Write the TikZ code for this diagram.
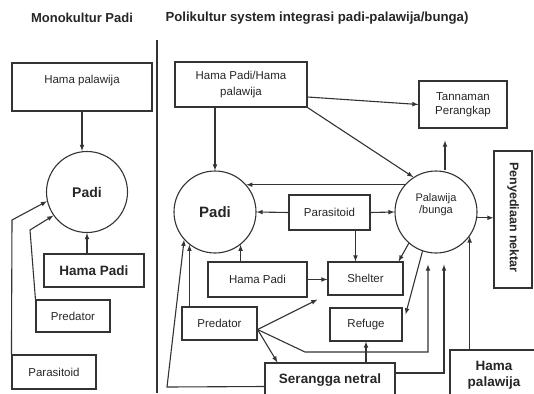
\documentclass[tikz,border=0pt]{standalone}
\usepackage{fontspec}
\setmainfont{Liberation Sans}

\begin{document}
\begin{tikzpicture}[x=1pt, y=-1pt, >=latex,
  line/.style={draw=black!80, line width=1.1pt},
  box/.style={line, rectangle, inner sep=1pt, align=center, text=black!85,
    font=\fontsize{11.5}{13}\selectfont},
  circ/.style={line, circle, minimum size=82pt, inner sep=0pt, align=center, text=black!85,
    font=\fontsize{11}{12}\selectfont},
  bold/.style={font=\bfseries\fontsize{13.5}{16}\selectfont},
  arr/.style={line, ->}]
\useasboundingbox (0,0) rectangle (534,393);
\clip (0,0) rectangle (534,393);

% Titles
\node[bold, font=\bfseries\fontsize{13}{15}\selectfont, text=black!85] (titleL) at (82,18) {Monokultur Padi};
\node[bold, font=\bfseries\fontsize{13.2}{15}\selectfont, text=black!85, anchor=west] (titleR) at (162,18) {Polikultur system integrasi padi-palawija/bunga)};
\draw[line] (157,40) -- (157,393);

% Monokultur nodes
\node[box, minimum width=140pt, minimum height=48pt] (hpalL) at (82,87) {Hama palawija\\[2pt]\mbox{}};
\node[circ, bold, font=\bfseries\fontsize{14}{16}\selectfont, minimum size=81pt] (padiL) at (87,192) {Padi};
\node[box, bold, minimum width=100pt, minimum height=33pt] (hpadL) at (94,270.5) {Hama Padi};
\node[box, minimum width=74pt, minimum height=32pt] (predL) at (73,316) {Predator};
\node[box, minimum width=84pt, minimum height=34pt] (parL) at (54,372) {Parasitoid};

% Monokultur arrows
\draw[arr] (hpalL.south) -- (hpalL.south |- padiL.north);
\draw[arr] (hpadL.north -| padiL.south) -- (padiL.south);
\draw[arr] (predL.north west) -- (30,230) -- (padiL.215);
\draw[arr] (parL.north west) -- (12,220) -- (padiL.193);

% Polikultur nodes
\node[box, minimum width=132pt, minimum height=45pt] (hphp) at (241,84.5) {Hama Padi/Hama\\[3pt]palawija};
\node[box, minimum width=88pt, minimum height=47pt] (tanam) at (463,104.5) {Tannaman\\[1pt]Perangkap};
\node[box, minimum width=38pt, minimum height=137pt] (nektar) at (513,219.5) {};
\node[bold, font=\bfseries\fontsize{12.5}{15}\selectfont, text=black!85, rotate=-90] (nektxt) at ([yshift=2pt]nektar.center) {Penyediaan nektar};
\node[circ, bold, font=\bfseries\fontsize{15}{17}\selectfont] (padiR) at (215,212) {Padi};
\node[circ] (palaw) at (436,212) {Palawija\\/bunga\\[4pt]\mbox{}};
\node[box, minimum width=81pt, minimum height=35pt] (paras) at (329.5,212.5) {Parasitoid};
\node[box, minimum width=75pt, minimum height=33pt] (shelter) at (365.5,278.5) {Shelter};
\node[box, minimum width=99pt, minimum height=35pt] (hpadR) at (257.5,279.5) {Hama Padi};
\node[box, minimum width=75pt, minimum height=33pt] (predR) at (219.5,323.5) {Predator};
\node[box, minimum width=72pt, minimum height=33pt] (refuge) at (366,324.5) {Refuge};
\node[box, bold, minimum width=130pt, minimum height=35pt] (serang) at (330,380.5) {Serangga netral};
\node[box, bold, minimum width=88pt, minimum height=50pt] (hpalR) at (494,375) {Hama\\palawija};

% Polikultur arrows
\draw[arr] (hphp.south -| padiR.north) -- (padiR.north);
\draw[arr] ([yshift=-12.5pt]hphp.east) -- (tanam.west);
\draw[arr] (hphp.south east) -- (palaw.123);
\draw[arr, shorten >=12pt] ([xshift=9pt]palaw.north) -- ([xshift=9pt]palaw.north |- tanam.south);
\draw[arr] (palaw.-8) -- (nektar.west |- palaw.-8);
\draw[arr] (palaw.139) -- (padiR.41);
\draw[arr] (paras.west) -- (padiR.east);
\draw[arr] (paras.east) -- (palaw.west);
\draw[arr] ([xshift=-10pt]shelter.north |- paras.south) -- ([xshift=-10pt]shelter.north);
\draw[arr] (hpadR.north -| padiR.-52) -- (padiR.-52);
\draw[arr] (hpadR.east) -- (hpadR.east -| shelter.west);
\draw[arr] (predR.north -| padiR.232) -- (padiR.232);
\draw[arr] (palaw.229) -- ([xshift=-5pt]shelter.north east);
\draw[arr] (palaw.251) -- ([xshift=3pt, yshift=-7pt]refuge.north east);
\draw[arr] (refuge.south |- serang.north) -- (refuge.south);
\draw[arr] (hpalR.north -| palaw.-36) -- (palaw.-36);

% Predator links
\coordinate (pr) at ([yshift=-6pt]predR.east);
\draw[arr] (pr) -- ([shift={(-10pt,-4pt)}]shelter.south west);
\draw[arr] (pr) -- ([xshift=13pt]serang.north west);
\draw[arr, shorten >=11pt] (pr) -- (305,352) -| ([xshift=-8pt]palaw.south);

% Serangga netral links
\coordinate (sn) at (167,387);
\draw[arr] ([yshift=-6pt]serang.west) -- (sn) -- (padiR.222);
\draw[arr, shorten >=11pt] ([yshift=7.5pt]serang.east) -| ([xshift=8pt]palaw.south);

\end{tikzpicture}
\end{document}
